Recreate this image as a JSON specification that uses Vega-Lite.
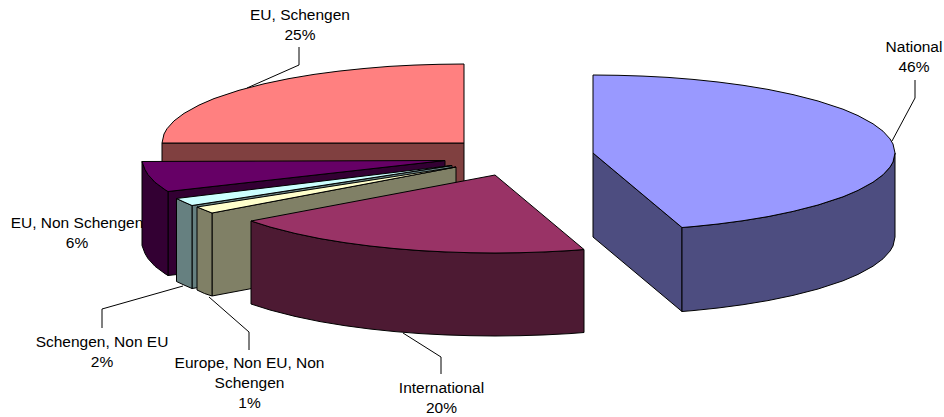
{
  "$schema": "https://vega.github.io/schema/vega-lite/v6.json",
  "description": "Exploded 3D pie of passenger traffic shares, drawn as outlined polygon faces.",
  "width": 944,
  "height": 417,
  "padding": 0,
  "autosize": {"type": "none"},
  "background": "#ffffff",
  "view": {"stroke": null},
  "datasets": {
    "labels": [
      {"label": "EU, Schengen\n25%", "x": 300, "y": 15},
      {"label": "National\n46%", "x": 914, "y": 47},
      {"label": "International\n20%", "x": 441.5, "y": 388},
      {"label": "EU, Non Schengen\n6%", "x": 77, "y": 223},
      {"label": "Schengen, Non EU\n2%", "x": 102, "y": 342},
      {"label": "Europe, Non EU, Non\nSchengen\n1%", "x": 249.5, "y": 363}
    ],
    "leaders": [
      {"leader": "EU, Schengen", "n": 0, "x": 299, "y": 47},
      {"leader": "EU, Schengen", "n": 1, "x": 299, "y": 65},
      {"leader": "EU, Schengen", "n": 2, "x": 247, "y": 88},
      {"leader": "National", "n": 0, "x": 915, "y": 80},
      {"leader": "National", "n": 1, "x": 915, "y": 98},
      {"leader": "National", "n": 2, "x": 892, "y": 141},
      {"leader": "International", "n": 0, "x": 441, "y": 374},
      {"leader": "International", "n": 1, "x": 441, "y": 357},
      {"leader": "International", "n": 2, "x": 403, "y": 333},
      {"leader": "Schengen, Non EU", "n": 0, "x": 102, "y": 328},
      {"leader": "Schengen, Non EU", "n": 1, "x": 102, "y": 309},
      {"leader": "Schengen, Non EU", "n": 2, "x": 183, "y": 286},
      {"leader": "Europe", "n": 0, "x": 249, "y": 350},
      {"leader": "Europe", "n": 1, "x": 249, "y": 332},
      {"leader": "Europe", "n": 2, "x": 209, "y": 297}
    ],
    "faces": [
      {"face": "eu_wall", "n": 0, "x": 162, "y": 143},
      {"face": "eu_wall", "n": 1, "x": 464, "y": 143},
      {"face": "eu_wall", "n": 2, "x": 464, "y": 227},
      {"face": "eu_wall", "n": 3, "x": 162, "y": 227},
      {"face": "eu_wall", "n": 4, "x": 162, "y": 143},

      {"face": "eu_top", "n": 0, "x": 464, "y": 143},
      {"face": "eu_top", "n": 1, "x": 464, "y": 64},
      {"face": "eu_top", "n": 2, "x": 439, "y": 64.3},
      {"face": "eu_top", "n": 3, "x": 414, "y": 65.1},
      {"face": "eu_top", "n": 4, "x": 389, "y": 66.4},
      {"face": "eu_top", "n": 5, "x": 364, "y": 68.5},
      {"face": "eu_top", "n": 6, "x": 339, "y": 71.1},
      {"face": "eu_top", "n": 7, "x": 314, "y": 74.4},
      {"face": "eu_top", "n": 8, "x": 289, "y": 78.6},
      {"face": "eu_top", "n": 9, "x": 264, "y": 83.8},
      {"face": "eu_top", "n": 10, "x": 239, "y": 90.3},
      {"face": "eu_top", "n": 11, "x": 214, "y": 98.6},
      {"face": "eu_top", "n": 12, "x": 199, "y": 105.1},
      {"face": "eu_top", "n": 13, "x": 184, "y": 113.4},
      {"face": "eu_top", "n": 14, "x": 174, "y": 120.9},
      {"face": "eu_top", "n": 15, "x": 167, "y": 128.7},
      {"face": "eu_top", "n": 16, "x": 164, "y": 134},
      {"face": "eu_top", "n": 17, "x": 162, "y": 143},
      {"face": "eu_top", "n": 18, "x": 464, "y": 143},

      {"face": "purple_inner", "n": 0, "x": 168, "y": 191.5},
      {"face": "purple_inner", "n": 1, "x": 445, "y": 160.5},
      {"face": "purple_inner", "n": 2, "x": 445, "y": 244.5},
      {"face": "purple_inner", "n": 3, "x": 168, "y": 275.5},
      {"face": "purple_inner", "n": 4, "x": 168, "y": 191.5},

      {"face": "purple_arc", "n": 0, "x": 142, "y": 161.5},
      {"face": "purple_arc", "n": 1, "x": 145, "y": 169.5},
      {"face": "purple_arc", "n": 2, "x": 148, "y": 174.6},
      {"face": "purple_arc", "n": 3, "x": 155, "y": 182.3},
      {"face": "purple_arc", "n": 4, "x": 165, "y": 189.7},
      {"face": "purple_arc", "n": 5, "x": 168, "y": 191.5},
      {"face": "purple_arc", "n": 6, "x": 168, "y": 275.5},
      {"face": "purple_arc", "n": 7, "x": 165, "y": 273.7},
      {"face": "purple_arc", "n": 8, "x": 155, "y": 266.3},
      {"face": "purple_arc", "n": 9, "x": 148, "y": 258.6},
      {"face": "purple_arc", "n": 10, "x": 145, "y": 253.5},
      {"face": "purple_arc", "n": 11, "x": 142, "y": 245.5},
      {"face": "purple_arc", "n": 12, "x": 142, "y": 161.5},

      {"face": "purple_top", "n": 0, "x": 445, "y": 160.5},
      {"face": "purple_top", "n": 1, "x": 142, "y": 161.5},
      {"face": "purple_top", "n": 2, "x": 145, "y": 169.5},
      {"face": "purple_top", "n": 3, "x": 148, "y": 174.6},
      {"face": "purple_top", "n": 4, "x": 155, "y": 182.3},
      {"face": "purple_top", "n": 5, "x": 165, "y": 189.7},
      {"face": "purple_top", "n": 6, "x": 168, "y": 191.5},
      {"face": "purple_top", "n": 7, "x": 445, "y": 160.5},

      {"face": "teal_inner", "n": 0, "x": 192, "y": 205.5},
      {"face": "teal_inner", "n": 1, "x": 452, "y": 165.5},
      {"face": "teal_inner", "n": 2, "x": 452, "y": 248.5},
      {"face": "teal_inner", "n": 3, "x": 192, "y": 288.5},
      {"face": "teal_inner", "n": 4, "x": 192, "y": 205.5},

      {"face": "teal_front", "n": 0, "x": 176.5, "y": 198.5},
      {"face": "teal_front", "n": 1, "x": 184, "y": 202},
      {"face": "teal_front", "n": 2, "x": 192, "y": 205.5},
      {"face": "teal_front", "n": 3, "x": 192, "y": 288.5},
      {"face": "teal_front", "n": 4, "x": 184, "y": 285},
      {"face": "teal_front", "n": 5, "x": 176.5, "y": 281.5},
      {"face": "teal_front", "n": 6, "x": 176.5, "y": 198.5},

      {"face": "cyan_top", "n": 0, "x": 452, "y": 165.5},
      {"face": "cyan_top", "n": 1, "x": 176.5, "y": 198.5},
      {"face": "cyan_top", "n": 2, "x": 184, "y": 202},
      {"face": "cyan_top", "n": 3, "x": 192, "y": 205.5},
      {"face": "cyan_top", "n": 4, "x": 452, "y": 165.5},

      {"face": "olive_inner", "n": 0, "x": 212, "y": 213},
      {"face": "olive_inner", "n": 1, "x": 456, "y": 167},
      {"face": "olive_inner", "n": 2, "x": 456, "y": 250},
      {"face": "olive_inner", "n": 3, "x": 212, "y": 296},
      {"face": "olive_inner", "n": 4, "x": 212, "y": 213},

      {"face": "olive_front", "n": 0, "x": 197, "y": 207},
      {"face": "olive_front", "n": 1, "x": 204.5, "y": 210},
      {"face": "olive_front", "n": 2, "x": 212, "y": 213},
      {"face": "olive_front", "n": 3, "x": 212, "y": 296},
      {"face": "olive_front", "n": 4, "x": 204.5, "y": 293.5},
      {"face": "olive_front", "n": 5, "x": 197, "y": 290},
      {"face": "olive_front", "n": 6, "x": 197, "y": 207},

      {"face": "cream_top", "n": 0, "x": 456, "y": 167},
      {"face": "cream_top", "n": 1, "x": 197, "y": 207},
      {"face": "cream_top", "n": 2, "x": 204.5, "y": 210},
      {"face": "cream_top", "n": 3, "x": 212, "y": 213},
      {"face": "cream_top", "n": 4, "x": 456, "y": 167},

      {"face": "intl_wall", "n": 0, "x": 584, "y": 249.5},
      {"face": "intl_wall", "n": 1, "x": 570, "y": 250.6},
      {"face": "intl_wall", "n": 2, "x": 545, "y": 251.9},
      {"face": "intl_wall", "n": 3, "x": 520, "y": 252.7},
      {"face": "intl_wall", "n": 4, "x": 495, "y": 253},
      {"face": "intl_wall", "n": 5, "x": 470, "y": 252.7},
      {"face": "intl_wall", "n": 6, "x": 445, "y": 251.9},
      {"face": "intl_wall", "n": 7, "x": 420, "y": 250.6},
      {"face": "intl_wall", "n": 8, "x": 395, "y": 248.6},
      {"face": "intl_wall", "n": 9, "x": 370, "y": 246},
      {"face": "intl_wall", "n": 10, "x": 345, "y": 242.7},
      {"face": "intl_wall", "n": 11, "x": 320, "y": 238.6},
      {"face": "intl_wall", "n": 12, "x": 295, "y": 233.4},
      {"face": "intl_wall", "n": 13, "x": 270, "y": 227},
      {"face": "intl_wall", "n": 14, "x": 251, "y": 221},
      {"face": "intl_wall", "n": 15, "x": 251, "y": 304},
      {"face": "intl_wall", "n": 16, "x": 270, "y": 310},
      {"face": "intl_wall", "n": 17, "x": 295, "y": 316.4},
      {"face": "intl_wall", "n": 18, "x": 320, "y": 321.6},
      {"face": "intl_wall", "n": 19, "x": 345, "y": 325.7},
      {"face": "intl_wall", "n": 20, "x": 370, "y": 329},
      {"face": "intl_wall", "n": 21, "x": 395, "y": 331.6},
      {"face": "intl_wall", "n": 22, "x": 420, "y": 333.6},
      {"face": "intl_wall", "n": 23, "x": 445, "y": 334.9},
      {"face": "intl_wall", "n": 24, "x": 470, "y": 335.7},
      {"face": "intl_wall", "n": 25, "x": 495, "y": 336},
      {"face": "intl_wall", "n": 26, "x": 520, "y": 335.7},
      {"face": "intl_wall", "n": 27, "x": 545, "y": 334.9},
      {"face": "intl_wall", "n": 28, "x": 570, "y": 333.6},
      {"face": "intl_wall", "n": 29, "x": 584, "y": 332.5},
      {"face": "intl_wall", "n": 30, "x": 584, "y": 249.5},

      {"face": "intl_top", "n": 0, "x": 495, "y": 175},
      {"face": "intl_top", "n": 1, "x": 584, "y": 249.5},
      {"face": "intl_top", "n": 2, "x": 570, "y": 250.6},
      {"face": "intl_top", "n": 3, "x": 545, "y": 251.9},
      {"face": "intl_top", "n": 4, "x": 520, "y": 252.7},
      {"face": "intl_top", "n": 5, "x": 495, "y": 253},
      {"face": "intl_top", "n": 6, "x": 470, "y": 252.7},
      {"face": "intl_top", "n": 7, "x": 445, "y": 251.9},
      {"face": "intl_top", "n": 8, "x": 420, "y": 250.6},
      {"face": "intl_top", "n": 9, "x": 395, "y": 248.6},
      {"face": "intl_top", "n": 10, "x": 370, "y": 246},
      {"face": "intl_top", "n": 11, "x": 345, "y": 242.7},
      {"face": "intl_top", "n": 12, "x": 320, "y": 238.6},
      {"face": "intl_top", "n": 13, "x": 295, "y": 233.4},
      {"face": "intl_top", "n": 14, "x": 270, "y": 227},
      {"face": "intl_top", "n": 15, "x": 251, "y": 221},
      {"face": "intl_top", "n": 16, "x": 495, "y": 175},

      {"face": "nat_left", "n": 0, "x": 593, "y": 153},
      {"face": "nat_left", "n": 1, "x": 682, "y": 227.5},
      {"face": "nat_left", "n": 2, "x": 682, "y": 311.5},
      {"face": "nat_left", "n": 3, "x": 593, "y": 237},
      {"face": "nat_left", "n": 4, "x": 593, "y": 153},

      {"face": "nat_wall", "n": 0, "x": 895, "y": 153},
      {"face": "nat_wall", "n": 1, "x": 893, "y": 162},
      {"face": "nat_wall", "n": 2, "x": 890, "y": 167.1},
      {"face": "nat_wall", "n": 3, "x": 883, "y": 174.8},
      {"face": "nat_wall", "n": 4, "x": 873, "y": 182.2},
      {"face": "nat_wall", "n": 5, "x": 858, "y": 190.4},
      {"face": "nat_wall", "n": 6, "x": 843, "y": 196.8},
      {"face": "nat_wall", "n": 7, "x": 818, "y": 205},
      {"face": "nat_wall", "n": 8, "x": 793, "y": 211.4},
      {"face": "nat_wall", "n": 9, "x": 768, "y": 216.6},
      {"face": "nat_wall", "n": 10, "x": 743, "y": 220.7},
      {"face": "nat_wall", "n": 11, "x": 718, "y": 224},
      {"face": "nat_wall", "n": 12, "x": 693, "y": 226.6},
      {"face": "nat_wall", "n": 13, "x": 682, "y": 227.5},
      {"face": "nat_wall", "n": 14, "x": 682, "y": 311.5},
      {"face": "nat_wall", "n": 15, "x": 693, "y": 310.6},
      {"face": "nat_wall", "n": 16, "x": 718, "y": 308},
      {"face": "nat_wall", "n": 17, "x": 743, "y": 304.7},
      {"face": "nat_wall", "n": 18, "x": 768, "y": 300.6},
      {"face": "nat_wall", "n": 19, "x": 793, "y": 295.4},
      {"face": "nat_wall", "n": 20, "x": 818, "y": 289},
      {"face": "nat_wall", "n": 21, "x": 843, "y": 280.8},
      {"face": "nat_wall", "n": 22, "x": 858, "y": 274.4},
      {"face": "nat_wall", "n": 23, "x": 873, "y": 266.2},
      {"face": "nat_wall", "n": 24, "x": 883, "y": 258.8},
      {"face": "nat_wall", "n": 25, "x": 890, "y": 251.1},
      {"face": "nat_wall", "n": 26, "x": 893, "y": 246},
      {"face": "nat_wall", "n": 27, "x": 895, "y": 237},
      {"face": "nat_wall", "n": 28, "x": 895, "y": 153},

      {"face": "nat_top", "n": 0, "x": 593, "y": 153},
      {"face": "nat_top", "n": 1, "x": 593, "y": 75},
      {"face": "nat_top", "n": 2, "x": 618, "y": 75.3},
      {"face": "nat_top", "n": 3, "x": 643, "y": 76.1},
      {"face": "nat_top", "n": 4, "x": 668, "y": 77.4},
      {"face": "nat_top", "n": 5, "x": 693, "y": 79.4},
      {"face": "nat_top", "n": 6, "x": 718, "y": 82},
      {"face": "nat_top", "n": 7, "x": 743, "y": 85.3},
      {"face": "nat_top", "n": 8, "x": 768, "y": 89.4},
      {"face": "nat_top", "n": 9, "x": 793, "y": 94.6},
      {"face": "nat_top", "n": 10, "x": 818, "y": 101},
      {"face": "nat_top", "n": 11, "x": 843, "y": 109.2},
      {"face": "nat_top", "n": 12, "x": 858, "y": 115.6},
      {"face": "nat_top", "n": 13, "x": 873, "y": 123.8},
      {"face": "nat_top", "n": 14, "x": 883, "y": 131.2},
      {"face": "nat_top", "n": 15, "x": 890, "y": 138.9},
      {"face": "nat_top", "n": 16, "x": 893, "y": 144},
      {"face": "nat_top", "n": 17, "x": 895, "y": 153},
      {"face": "nat_top", "n": 18, "x": 893, "y": 162},
      {"face": "nat_top", "n": 19, "x": 890, "y": 167.1},
      {"face": "nat_top", "n": 20, "x": 883, "y": 174.8},
      {"face": "nat_top", "n": 21, "x": 873, "y": 182.2},
      {"face": "nat_top", "n": 22, "x": 858, "y": 190.4},
      {"face": "nat_top", "n": 23, "x": 843, "y": 196.8},
      {"face": "nat_top", "n": 24, "x": 818, "y": 205},
      {"face": "nat_top", "n": 25, "x": 793, "y": 211.4},
      {"face": "nat_top", "n": 26, "x": 768, "y": 216.6},
      {"face": "nat_top", "n": 27, "x": 743, "y": 220.7},
      {"face": "nat_top", "n": 28, "x": 718, "y": 224},
      {"face": "nat_top", "n": 29, "x": 693, "y": 226.6},
      {"face": "nat_top", "n": 30, "x": 682, "y": 227.5},
      {"face": "nat_top", "n": 31, "x": 593, "y": 153}
    ]
  },
  "encoding": {
    "x": {"field": "x", "type": "quantitative", "axis": null, "scale": {"domain": [0, 944], "nice": false, "zero": false}},
    "y": {"field": "y", "type": "quantitative", "axis": null, "scale": {"domain": [417, 0], "nice": false, "zero": false}}
  },
  "layer": [
    {
      "data": {"name": "labels"},
      "mark": {"type": "text", "font": "Liberation Sans", "fontSize": 15.5, "lineBreak": "\n", "lineHeight": 20, "align": "center", "baseline": "middle", "color": "#000000"},
      "encoding": {"text": {"field": "label", "type": "nominal"}}
    },
    {
      "data": {"name": "leaders"},
      "mark": {"type": "line", "stroke": "#000000", "strokeWidth": 1, "interpolate": "linear"},
      "encoding": {
        "detail": {"field": "leader", "type": "nominal"},
        "order": {"field": "n", "type": "quantitative"}
      }
    },
    {
      "data": {"name": "faces"},
      "mark": {"type": "line", "stroke": "#000000", "strokeWidth": 1, "interpolate": "linear", "strokeJoin": "round"},
      "encoding": {
        "detail": {"field": "face", "type": "nominal"},
        "order": {"field": "n", "type": "quantitative"},
        "fill": {
          "field": "face",
          "type": "nominal",
          "legend": null,
          "scale": {
            "domain": ["eu_wall", "eu_top", "purple_inner", "purple_arc", "purple_top", "teal_inner", "teal_front", "cyan_top", "olive_inner", "olive_front", "cream_top", "intl_wall", "intl_top", "nat_left", "nat_wall", "nat_top"],
            "range": ["#804040", "#FF8080", "#330033", "#330033", "#660066", "#668080", "#668080", "#CCFFFF", "#808066", "#808066", "#FFFFCC", "#4D1A33", "#993366", "#4D4D80", "#4D4D80", "#9999FF"]
          }
        }
      }
    }
  ]
}
